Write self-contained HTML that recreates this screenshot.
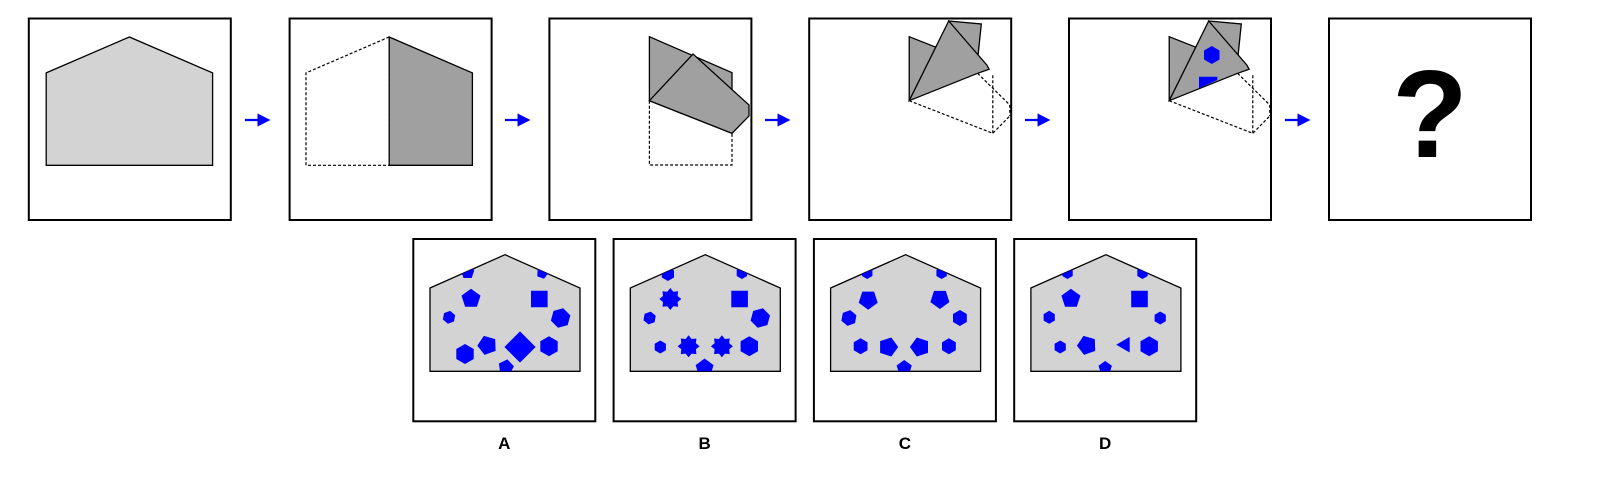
<!DOCTYPE html>
<html><head><meta charset="utf-8"><style>
html,body{margin:0;padding:0;background:#fff;}
svg{display:block;}
text{font-family:"Liberation Sans",sans-serif;font-weight:bold;}
</style></head><body>
<svg id="s" width="1610" height="490" viewBox="0 0 1610 490" xmlns="http://www.w3.org/2000/svg">
<defs>
<marker id="ah" markerWidth="6" markerHeight="6" refX="3" refY="3" orient="auto"><path d="M0,0 L6,3 L0,6 z" fill="#0000ff"/></marker>
</defs>
<g stroke="#000" stroke-width="2" fill="#fff">
<rect x="28.8" y="18.5" width="202" height="201.5"/>
<rect x="289.6" y="18.5" width="202" height="201.5"/>
<rect x="549.4" y="18.5" width="202" height="201.5"/>
<rect x="809.2" y="18.5" width="202" height="201.5"/>
<rect x="1069" y="18.5" width="202" height="201.5"/>
<rect x="1329" y="18.5" width="202" height="201.5"/>
</g>
<polygon points="46.2,72.9 129.4,37 212.6,72.9 212.6,165.3 46.2,165.3" fill="#d3d3d3" stroke="#000" stroke-width="1.3"/>
<polygon points="389.2,37 306,72.9 306,165.3 389.2,165.3" fill="none" stroke="#000" stroke-width="1.2" stroke-dasharray="3,2"/>
<polygon points="389.2,37 472.4,72.9 472.4,165.3 389.2,165.3" fill="#a0a0a0" stroke="#000" stroke-width="1.3"/>
<g stroke="#000" stroke-width="1.3">
<polyline points="649.4,100.7 649.4,165 732,165 732,133.3" fill="none" stroke-width="1.2" stroke-dasharray="3,2"/>
<polygon points="649.4,36.7 732,72.7 732,133.3 649.4,100.7" fill="#a0a0a0"/>
<polygon points="649.4,100.7 693,54 749,105 749,116 732,133.3" fill="#a0a0a0"/>
</g>
<g id="f4" stroke="#000" stroke-width="1.3">
<polyline points="909.2,100.7 992.8,133.3 1009.8,116" fill="none" stroke-width="1.2" stroke-dasharray="3,2"/>
<polyline points="992.8,133.3 992.8,73.3" fill="none" stroke-width="1.2" stroke-dasharray="3,2"/>
<polyline points="977.6,73.3 1009.8,105 1009.8,116" fill="none" stroke-width="1.2" stroke-dasharray="3,2"/>
<polygon points="948.7,21 981.3,24 977.6,60 960,50" fill="#a0a0a0"/>
<polygon points="909.2,36.7 938.6,48.3 920,80 909.2,100.7" fill="#a0a0a0"/>
<polygon points="909.2,100.7 948.7,21 986.8,65 989.1,69.3 977.6,73.3" fill="#a0a0a0"/>
</g>
<g stroke="#000" stroke-width="1.3">
<polyline points="1169.2,100.7 1252.8,133.3 1269.8,116" fill="none" stroke-width="1.2" stroke-dasharray="3,2"/>
<polyline points="1252.8,133.3 1252.8,73.3" fill="none" stroke-width="1.2" stroke-dasharray="3,2"/>
<polyline points="1237.6,73.3 1269.8,105 1269.8,116" fill="none" stroke-width="1.2" stroke-dasharray="3,2"/>
<polygon points="1208.7,21 1241.3,24 1237.6,60 1220,50" fill="#a0a0a0"/>
<polygon points="1169.2,36.7 1198.6,48.3 1180,80 1169.2,100.7" fill="#a0a0a0"/>
<polygon points="1169.2,100.7 1208.7,21 1246.8,65 1249.1,69.3 1237.6,73.3" fill="#a0a0a0"/>
<polygon points="1211.8,46 1219.5,50.5 1219.5,59.5 1211.8,64 1204,59.5 1204,50.5" fill="#0000ff" stroke="none"/>
<polygon points="1199,76.7 1217.3,76.7 1217.3,80 1199,88.3" fill="#0000ff" stroke="none"/>
</g>
<text x="1430" y="157" font-size="124" text-anchor="middle" fill="#000">?</text>
<g stroke="#0000ff" stroke-width="2.2" fill="none">
<line x1="245" y1="120" x2="264" y2="120" marker-end="url(#ah)"/>
<line x1="505" y1="120" x2="524" y2="120" marker-end="url(#ah)"/>
<line x1="765" y1="120" x2="784" y2="120" marker-end="url(#ah)"/>
<line x1="1025" y1="120" x2="1044" y2="120" marker-end="url(#ah)"/>
<line x1="1285" y1="120" x2="1304" y2="120" marker-end="url(#ah)"/>
</g>
<g id="opts"></g>
</svg>
<script>
// option shapes: [type, relX, relY, size, rotationDeg]
const optionLabels = ["A","B","C","D"];
const optionA = [["pent",54.3,33.3,7,0],["pent",129,34,6,20],["pent",57.7,59.7,10,0],["sq",126,60,8.3,0],["hex",35.7,78.3,6.5,10],["hex",147.3,79,10,15],["hex",51.7,115,10,0],["pent",74,106.3,10,-20],["sq",106.7,108,11,45],["hex",135.7,107.3,10,0],["pent",92.7,128.3,8,10]];
const optionB = [["hex",54.3,35,7,0],["hex",128.3,34,6,0],["star",56.7,60,11,0],["sq",126,60,8.3,0],["hex",36,79,6.5,10],["hex",146.7,79,10,15],["hex",46.7,108,6.5,0],["star",75,107.3,11,0],["star",108.3,107.3,11,0],["hex",135.7,107.3,10,0],["pent",91,129,9.5,0]];
const optionC = [["hex",53.3,34,6,0],["hex",127.7,34,6,0],["pent",54.3,60.7,10,180],["pent",126,60,10,180],["hex",35,79,8,10],["hex",146,79,8,0],["hex",46.7,107.3,8,0],["pent",74.3,108,10,90],["pent",106,108,10,-90],["hex",135,107.3,8,0],["pent",90.3,129,8,0]];
const optionD = [["hex",53.3,34,6,0],["hex",128.3,34,6,0],["pent",56.7,59.7,10,0],["sq",125.3,60,8.3,0],["hex",35,78.3,6.5,0],["hex",146,79,6.5,0],["hex",46,108,6.5,0],["pent",72.7,106.3,10,-20],["tri",111,105.7,9,30],["hex",135,107.3,10,0],["pent",91,129,7,0]];
const optionSets = [optionA, optionB, optionC, optionD];
const NS = "http://www.w3.org/2000/svg";
const g = document.getElementById("opts");
function polyPts(type, cx, cy, r, rot){
  let n;
  if(type==="hex") n=6; else if(type==="pent") n=5; else if(type==="tri") n=3; else if(type==="sq") {n=4; r=r*Math.SQRT2; rot+=45;}
  else if(type==="star") n=16;
  const pts=[];
  for(let i=0;i<n;i++){
    const a=(rot-90+i*360/n)*Math.PI/180;
    const rad = type==="star" ? (i%2===0? r : r*0.72) : r;
    pts.push((cx+rad*Math.cos(a)).toFixed(1)+","+(cy+rad*Math.sin(a)).toFixed(1));
  }
  return pts.join(" ");
}
optionSets.forEach((set, k)=>{
  const bx = 413.3 + k*200.3, by = 239;
  const rect = document.createElementNS(NS,"rect");
  
  
  rect.setAttribute("x",bx); rect.setAttribute("y",by);
  rect.setAttribute("width",182); rect.setAttribute("height",182.3);
  rect.setAttribute("fill","#fff"); rect.setAttribute("stroke","#000"); rect.setAttribute("stroke-width","2");
  g.appendChild(rect);
  const housePts = [[16.7,49],[91.7,15.7],[166.7,49],[166.7,132.3],[16.7,132.3]].map(p=>(bx+p[0])+","+(by+p[1])).join(" ");
  const cp = document.createElementNS(NS,"clipPath");
  cp.setAttribute("id","cp"+k);
  const cpp = document.createElementNS(NS,"polygon");
  cpp.setAttribute("points",housePts);
  cp.appendChild(cpp); g.appendChild(cp);
  const house = document.createElementNS(NS,"polygon");
  
  
  house.setAttribute("points",housePts);
  house.setAttribute("fill","#d3d3d3"); house.setAttribute("stroke","#000"); house.setAttribute("stroke-width","1.3");
  g.appendChild(house);
  const sg = document.createElementNS(NS,"g");
  sg.setAttribute("clip-path","url(#cp"+k+")");
  g.appendChild(sg);
  set.forEach(s=>{
    const p = document.createElementNS(NS,"polygon");
    
    
    p.setAttribute("points",polyPts(s[0],bx+s[1],by+s[2],s[3],s[4]));
    p.setAttribute("fill","#0000ff");
    sg.appendChild(p);
  });
  const t = document.createElementNS(NS,"text");
  
  
  t.setAttribute("x",bx+91); t.setAttribute("y",449);
  t.setAttribute("font-size","17"); t.setAttribute("text-anchor","middle");
  t.textContent = optionLabels[k];
  g.appendChild(t);
});
</script>
</body></html>
